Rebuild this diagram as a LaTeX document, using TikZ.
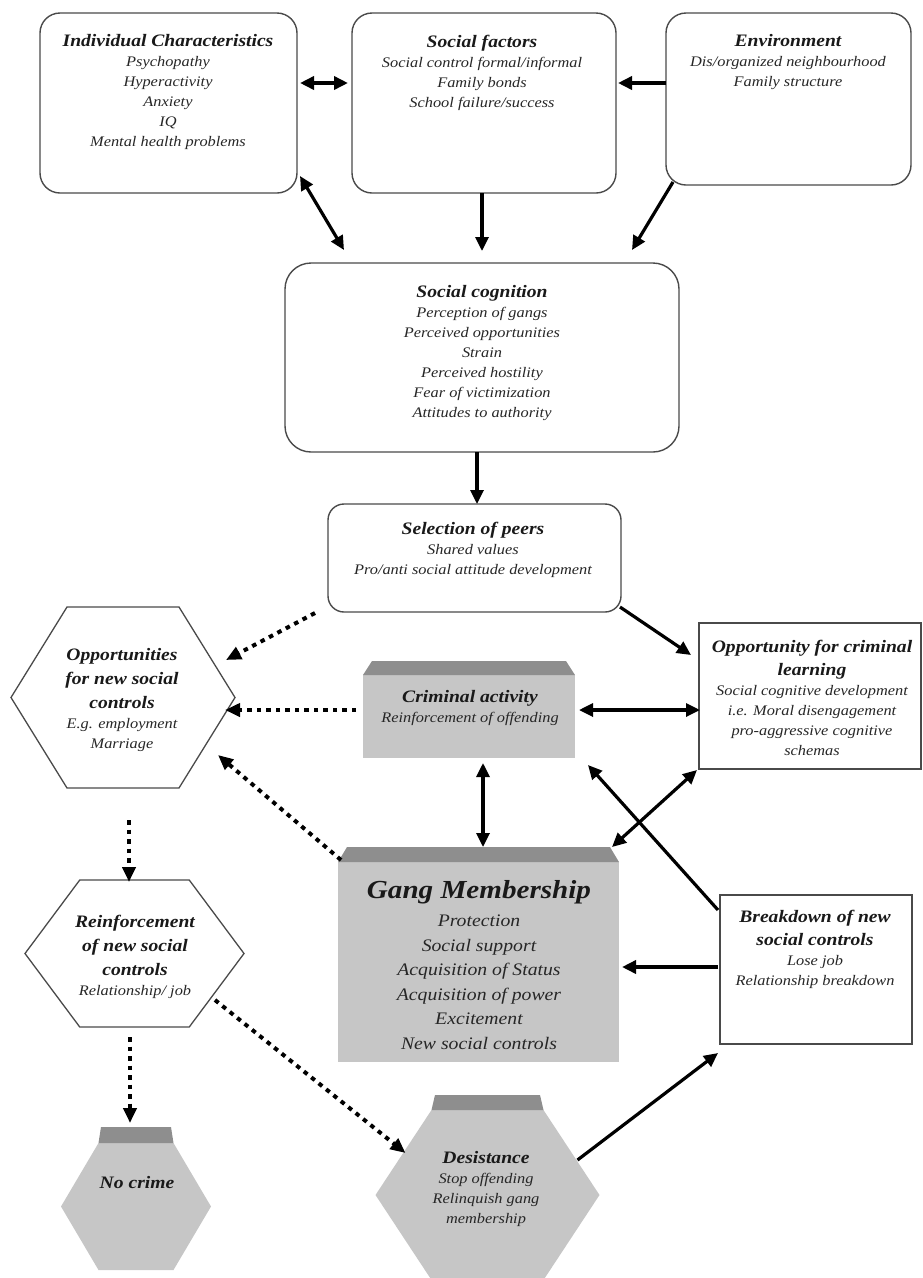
\documentclass[tikz,border=0pt]{standalone}
\usepackage{fontspec}
\setmainfont{Liberation Serif}[FakeStretch=1.12]
\usepackage{tikz}
\usetikzlibrary{arrows.meta}
\usetikzlibrary{calc}

\definecolor{roofgray}{HTML}{8E8E8E}
\definecolor{bodygray}{HTML}{C6C6C6}
\definecolor{inkgray}{HTML}{262626}
\definecolor{linegray}{HTML}{4A4A4A}

\newcommand{\hd}[1]{{\fontsize{17.5}{22}\selectfont\bfseries\color{black!90}#1}}
\newcommand{\hexpath}[1]{(#1.west) -- ($(#1.north west)!.25!(#1.north east)$) -- ($(#1.north west)!.75!(#1.north east)$) -- (#1.east) -- ($(#1.south west)!.75!(#1.south east)$) -- ($(#1.south west)!.25!(#1.south east)$) -- cycle}
\newcommand{\roofband}[4]{\fill[roofgray] (#1) -- (#2) -- ($(#2)+(-#3,-#4)$) -- ($(#1)+(#3,-#4)$) -- cycle;}

\tikzset{
  frame/.style={inner sep=0pt, outer sep=0pt},
  rbox/.style={frame, draw=linegray, line width=1.4pt, rounded corners=20pt},
  sqbox/.style={frame, draw=linegray, line width=1.4pt},
  hexline/.style={draw=linegray, line width=1.3pt},
  txt/.style={align=center, inner sep=0pt, text=inkgray, font=\fontsize{14.6}{20}\selectfont\itshape},
  arr/.style={line width=3.2pt, -{Triangle[length=14pt,width=13pt]}},
  biarr/.style={line width=3.2pt, {Triangle[length=14pt,width=13pt]}-{Triangle[length=14pt,width=13pt]}},
  dotarr/.style={line width=4pt, dash pattern=on 4.5pt off 5pt, -{Triangle[length=15pt,width=13pt]}},
}

\begin{document}
\begin{tikzpicture}[x=1pt,y=-1pt]
\useasboundingbox (0,0) rectangle (922,1278);
% draws boxes
\node[rbox, minimum width=257pt, minimum height=180pt] (indiv) at (168.5,103) {};
\node[rbox, minimum width=264pt, minimum height=180pt] (social) at (484,103) {};
\node[rbox, minimum width=245pt, minimum height=172pt] (env) at (788.5,99) {};
\node[rbox, minimum width=394pt, minimum height=189pt, rounded corners=26pt] (cognition) at (482,357.5) {};
\node[rbox, minimum width=293pt, minimum height=108pt, rounded corners=16pt] (selection) at (474.5,558) {};
\node[sqbox, minimum width=222pt, minimum height=146pt] (crimlearn) at (810,696) {};
\node[sqbox, minimum width=192pt, minimum height=149pt] (breakdown) at (816,969.5) {};
% draws grey blocks
\node[frame, fill=bodygray, minimum width=212pt, minimum height=83pt] (crim) at (469,716.5) {};
\roofband{crim.north west}{crim.north east}{9}{14}
\node[frame, fill=bodygray, minimum width=281pt, minimum height=200pt] (gang) at (478.5,962) {};
\roofband{gang.north west}{gang.north east}{9}{15}
% draws hexagons
\node[frame, minimum width=224pt, minimum height=181pt] (opps) at (123,697.5) {};
\draw[hexline] \hexpath{opps};
\node[frame, minimum width=219pt, minimum height=147pt] (reinf) at (134.5,953.5) {};
\draw[hexline] \hexpath{reinf};
\node[frame, minimum width=150pt, minimum height=127pt] (nocrime) at (136,1206.5) {};
\fill[bodygray] \hexpath{nocrime};
\coordinate (nocrimeL) at ($(nocrime.north west)!.25!(nocrime.north east)$);
\coordinate (nocrimeR) at ($(nocrime.north west)!.75!(nocrime.north east)$);
\roofband{nocrimeL}{nocrimeR}{2.5}{16}
\node[frame, minimum width=224pt, minimum height=170pt] (desist) at (487.5,1195) {};
\fill[bodygray] \hexpath{desist};
\coordinate (desistL) at ($(desist.north west)!.25!(desist.north east)$);
\coordinate (desistR) at ($(desist.north west)!.75!(desist.north east)$);
\roofband{desistL}{desistR}{3.5}{15}
% labels boxes
\node[txt] (indivtxt) at (168,92) {\hd{Individual Characteristics}\\Psychopathy\\Hyperactivity\\Anxiety\\IQ\\Mental health problems};
\node[txt] (socialtxt) at (482,72.5) {\hd{Social factors}\\Social control formal/informal\\Family bonds\\School failure/success};
\node[txt] (envtxt) at (788,62) {\hd{Environment}\\Dis/organized neighbourhood\\Family structure};
\node[txt] (cognitiontxt) at (482,352.5) {\hd{Social cognition}\\Perception of gangs\\Perceived opportunities\\Strain\\Perceived hostility\\Fear of victimization\\Attitudes to authority};
\node[txt] (selectiontxt) at (473,550) {\hd{Selection of peers}\\Shared values\\Pro/anti social attitude development};
\node[txt] (oppstxt) at (122,700) {\hd{Opportunities}\\[4pt]\hd{for new social}\\[4pt]\hd{controls}\\E.g. employment\\Marriage};
\node[txt] (crimtxt) at (470,707.5) {\hd{Criminal activity}\\Reinforcement of offending};
\node[txt] (crimlearntxt) at (812,697.5) {\hd{Opportunity for criminal}\\[3pt]\hd{learning}\\Social cognitive development\\i.e. Moral disengagement\\pro-aggressive cognitive\\schemas};
\node[txt, font=\fontsize{17.6}{24.5}\selectfont\itshape] (gangtxt) at (479,965) {{\fontsize{26}{30}\selectfont\bfseries\color{black!90}Gang Membership}\\[4pt]Protection\\Social support\\Acquisition of Status\\Acquisition of power\\Excitement\\New social controls};
\node[txt] (breakdowntxt) at (815,949.5) {\hd{Breakdown of new}\\[3pt]\hd{social controls}\\Lose job\\Relationship breakdown};
\node[txt] (reinftxt) at (135,957) {\hd{Reinforcement}\\[4pt]\hd{of new social}\\[4pt]\hd{controls}\\Relationship/ job};
\node[txt] (nocrimetxt) at (137,1182) {\hd{No crime}};
\node[txt] (desisttxt) at (486,1189) {\hd{Desistance}\\Stop offending\\Relinquish gang\\membership};
% draws edges
\begin{scope}[black]
\draw[biarr, line width=4.5pt] ($(indiv.east)+(3,-20)$) -- ($(social.west)+(-4,-20)$);
\draw[arr, line width=4.5pt] ($(env.west)+(0,-16)$) -- ($(social.east)+(2,-20)$);
\draw[biarr] ($(indiv.south east)+(3,-17)$) -- ($(cognition.north west)+(59,-13)$);
\draw[arr] ($(social.south)+(-2,0)$) -- ($(cognition.north)+(0,-12)$);
\draw[arr] ($(env.south west)+(7,-3)$) -- ($(cognition.north east)+(-47,-13)$);
\draw[arr] ($(cognition.south)+(-5,0)$) -- ($(selection.north)+(2.5,0)$);
\draw[arr] ($(selection.south east)+(-1,-5)$) -- ($(crimlearn.north west)+(-8,32)$);
\draw[dotarr] ($(selection.south west)+(-13,1)$) -- ($(opps.east)+(-9,-37.5)$);
\draw[dotarr] ($(crim.west)+(-7,-6.5)$) -- ($(opps.east)+(-10,12.5)$);
\draw[dotarr] ($(gang.north west)+(3,-2)$) -- ($(opps.east)+(-17,57.5)$);
\draw[biarr] ($(crim.east)+(4,-6.5)$) -- ($(crimlearn.west)+(1,14)$);
\draw[biarr] ($(crim.south)+(14,5)$) -- ($(gang.north)+(4.5,-15)$);
\draw[biarr] ($(crimlearn.south west)+(-2,1)$) -- ($(gang.north east)+(-7,-15)$);
\draw[arr] ($(breakdown.north west)+(-2,15)$) -- ($(crim.south east)+(13,7)$);
\draw[arr, line width=4pt] ($(breakdown.west)+(-2,-2.5)$) -- ($(gang.east)+(3,5)$);
\draw[arr] ($(desist.east)+(-22,-35)$) -- ($(breakdown.south west)+(-2,9)$);
\draw[dotarr] ($(opps.south)+(6,32)$) -- ($(reinf.north)+(-5.5,2)$);
\draw[dotarr] ($(reinf.south)+(-4.5,10)$) -- ($(nocrime.north)+(-6,-20)$);
\draw[dotarr] ($(reinf.east)+(-29,46.5)$) -- ($(desist.west)+(30,-42)$);
\end{scope}
\end{tikzpicture}
\end{document}
